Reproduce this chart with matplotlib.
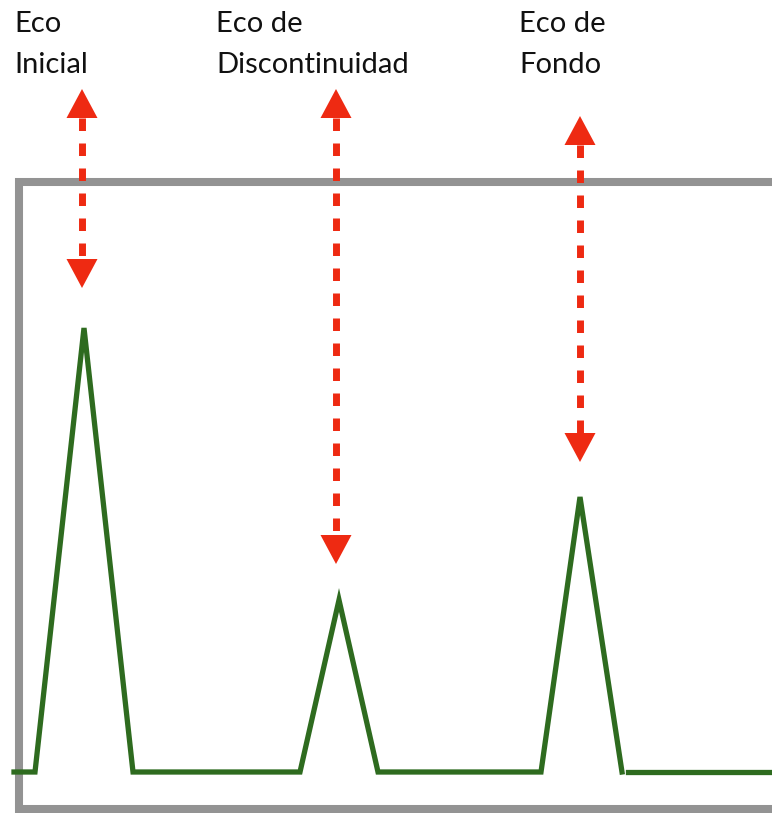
import numpy as np
import matplotlib
matplotlib.use("Agg")
import matplotlib.pyplot as plt

# echo diagram (ultrasonic A-scan style)
labels = ["Eco\nInicial", "Eco de\nDiscontinuidad", "Eco de\nFondo"]
label_x = [14, 216, 519]
peak_center = [84, 339, 580]
peak_height = [444, 172, 275]
peak_left = [35, 300, 541]
peak_right = [133, 378, 622]
arrow_x = [82, 336, 580]
arrow_top = [683, 683, 656]
arrow_bottom = [484, 208, 310]

green = "#2e6b1f"
red = "#ee2a12"
grey = "#939393"

fig = plt.figure(figsize=(7.72, 8.13), dpi=100)
ax = fig.add_axes([0, 0, 1, 1])
ax.set_xlim(0, 772)
ax.set_ylim(-41, 772)
ax.axis("off")

# frame (right side runs off the picture)
ax.plot([790, 18.5, 18.5, 790], [589.5, 589.5, -37, -37],
        color=grey, lw=5.8, solid_joinstyle="miter", clip_on=False)

# signal trace: baseline with triangular echoes
xs = [14]
ys = [0]
for l, c, r, h in zip(peak_left, peak_center, peak_right, peak_height):
    xs += [l, c, r]
    ys += [0, h, 0]
ax.plot(xs, ys, color=green, lw=3.8, solid_joinstyle="miter")
ax.plot([628, 772], [0, 0], color=green, lw=3.8)

# dashed double arrows
head_h = 29
head_w = 15.5
for x, top, bot in zip(arrow_x, arrow_top, arrow_bottom):
    ax.plot([x, x], [top - head_h, bot + head_h], color=red, lw=5,
            linestyle=(0, (1.8, 1.8)), dash_capstyle="butt")
    ax.fill([x - head_w, x + head_w, x], [top - head_h, top - head_h, top],
            color=red, lw=0)
    ax.fill([x - head_w, x + head_w, x], [bot + head_h, bot + head_h, bot],
            color=red, lw=0)

for x, txt in zip(label_x, labels):
    ax.text(x, 761, txt, fontsize=21, family="Lato", color="#111111",
            ha="left", va="top", linespacing=1.7)

fig.savefig("out.png", dpi=100)
